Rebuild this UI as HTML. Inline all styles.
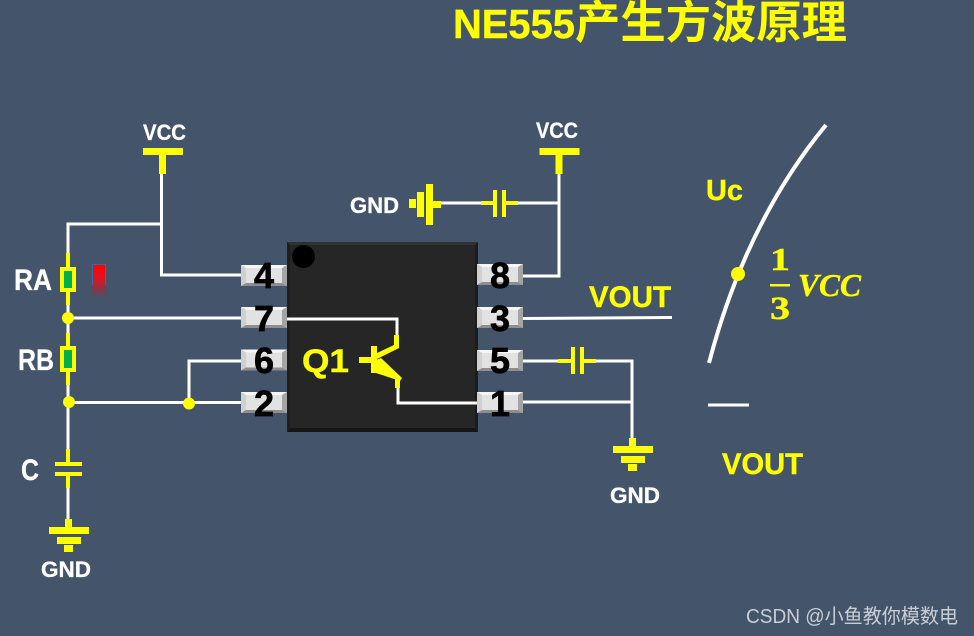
<!DOCTYPE html>
<html><head><meta charset="utf-8"><style>
html,body{margin:0;padding:0;background:#44546a}
svg{display:block}
text{font-family:"Liberation Sans","Noto Sans CJK SC",sans-serif;font-weight:bold}
.w{stroke:#fff;stroke-width:3;fill:none}
.y{fill:#ff0}
.n{font-size:36px;fill:#000;stroke:#000;stroke-width:.7;text-anchor:middle}
.l{fill:#fff;stroke:#fff;stroke-width:.3}
.s{stroke:#ff0;stroke-width:.4}
</style></head><body>
<svg width="974" height="636" viewBox="0 0 974 636" xmlns="http://www.w3.org/2000/svg">
<defs>
<linearGradient id="red" x1="0" y1="0" x2="0" y2="1"><stop offset="0" stop-color="#f00"/><stop offset=".35" stop-color="#e8101c"/><stop offset="1" stop-color="#f00" stop-opacity="0"/></linearGradient>
<g id="pin">
<rect width="46" height="21" fill="#e2e2e2"/>
<polygon points="0,0 46,0 41,3 5,3" fill="#f6f6f6"/>
<polygon points="0,0 5,3 5,18 0,21" fill="#d0d0d0"/>
<polygon points="46,0 41,3 41,18 46,21" fill="#a4a4a4"/>
<polygon points="0,21 5,18 41,18 46,21" fill="#8e8e8e"/>
</g>
<g id="gnd">
<rect x="-4" y="0" width="7" height="8"/>
<rect x="-20" y="8" width="40" height="7"/>
<rect x="-12" y="18" width="24" height="7"/>
<rect x="-5" y="26" width="9" height="7"/>
</g>
<g id="vcc">
<rect x="0" y="0" width="40" height="7"/>
<rect x="16" y="7" width="7" height="19"/>
</g>
</defs>
<rect width="974" height="636" fill="#44546a"/>

<!-- title -->
<text x="453" y="38" font-size="41" class="y s" textLength="122" lengthAdjust="spacingAndGlyphs">NE555</text>
<text x="575" y="38" font-size="45" class="y" textLength="272" lengthAdjust="spacingAndGlyphs">产生方波原理</text>

<!-- chip -->
<rect x="287" y="242" width="191" height="190" fill="#262626"/>
<polygon points="287,242 478,242 475,245 290,245" fill="#303030"/>
<polygon points="287,432 478,432 475,428 290,428" fill="#161616"/>
<polygon points="287,242 290,245 290,428 287,432" fill="#1e1e1e"/>
<polygon points="478,242 475,245 475,428 478,432" fill="#1c1c1c"/>
<circle cx="303.5" cy="256.5" r="11.5" fill="#000"/>

<!-- pins -->
<use href="#pin" x="241" y="265"/>
<use href="#pin" x="241" y="307"/>
<use href="#pin" x="241" y="349.500"/>
<use href="#pin" x="241" y="392"/>
<use href="#pin" x="477" y="264"/>
<use href="#pin" x="477" y="307"/>
<use href="#pin" x="477" y="350"/>
<use href="#pin" x="477" y="392"/>

<!-- wires -->
<path class="w" d="M161.500 172V275H241M68 254V224H161.500"/>
<path class="w" d="M68 300V450M68 488V520"/>
<path class="w" d="M68 318H241M68 402.500H241M189 403V361H241"/>
<path class="w" d="M287 319H397V336M398 386V403H477"/>
<path class="w" d="M559 172V276H523M440 203H481M518 203H559"/>
<path class="w" d="M523 318.500L672 317.500"/>
<path class="w" d="M523 361H558M596 361H632V440M523 402H632"/>
<path class="w" d="M708 405H749"/>
<path d="M709 363Q746 222 826 125" fill="none" stroke="#fff" stroke-width="4"/>

<!-- VCC/GND symbols -->
<use href="#vcc" x="143" y="148" class="y"/>
<use href="#vcc" x="539.500" y="148" class="y"/>
<g class="y">
<rect x="409" y="199" width="7" height="9"/>
<rect x="417" y="192" width="7" height="25"/>
<rect x="426" y="184" width="7" height="41"/>
<rect x="433" y="201" width="8" height="7"/>
<!-- top cap -->
<rect x="481" y="201" width="13" height="4"/>
<rect x="505" y="201" width="13" height="4"/>
<rect x="493" y="190" width="4" height="27"/>
<rect x="502" y="190" width="4" height="27"/>
<!-- right cap -->
<rect x="558" y="359" width="14" height="4"/>
<rect x="583" y="359" width="13" height="4"/>
<rect x="571" y="347" width="4" height="27"/>
<rect x="580" y="347" width="4" height="27"/>
<!-- RA -->
<rect x="66" y="253" width="4" height="52"/>
<rect x="60" y="267" width="16" height="25"/>
<!-- RB -->
<rect x="66" y="333" width="4" height="52"/>
<rect x="60" y="346" width="16" height="26"/>
<!-- C -->
<rect x="66" y="449" width="4" height="14"/>
<rect x="66" y="475" width="4" height="13"/>
<rect x="55" y="462" width="27" height="4"/>
<rect x="55" y="472" width="27" height="4"/>
</g>
<rect x="64" y="271" width="8" height="17" fill="#00b050"/>
<rect x="64" y="350" width="8" height="18" fill="#00b050"/>
<use href="#gnd" x="69" y="519" class="y"/>
<use href="#gnd" x="633" y="438" class="y"/>

<!-- nodes -->
<g class="y">
<circle cx="68" cy="318" r="6"/>
<circle cx="69" cy="402" r="6"/>
<circle cx="189" cy="403.500" r="6"/>
<circle cx="738" cy="274" r="7"/>
</g>

<!-- transistor -->
<g class="y">
<rect x="371" y="346" width="6" height="27"/>
<rect x="359" y="357" width="13" height="6"/>
<polygon points="394,335 399,335 399,348 377,359 375,354 394,345"/>
<polygon points="376,360 381,358 402,378 400,381 376,373"/>
<rect x="395" y="378" width="5" height="10"/>
</g>

<!-- red mark -->
<rect x="92.500" y="264.500" width="13" height="33" fill="url(#red)"/>
<path d="M92.500 285V264.500H105.500V285" fill="none" stroke="#3d6a9e" stroke-width="1"/>

<!-- pin numbers -->
<text class="n" x="264" y="288">4</text>
<text class="n" x="264" y="331">7</text>
<text class="n" x="264" y="373">6</text>
<text class="n" x="264" y="416">2</text>
<text class="n" x="500" y="288">8</text>
<text class="n" x="500" y="331">3</text>
<text class="n" x="500" y="373">5</text>
<text class="n" x="500" y="416">1</text>

<!-- labels -->
<text class="l" x="143" y="140" font-size="22" textLength="43" lengthAdjust="spacingAndGlyphs">VCC</text>
<text class="l" x="536" y="138" font-size="22" textLength="42" lengthAdjust="spacingAndGlyphs">VCC</text>
<text class="l" x="350" y="213" font-size="22" textLength="49" lengthAdjust="spacingAndGlyphs">GND</text>
<text class="l" x="41" y="577" font-size="22" textLength="50" lengthAdjust="spacingAndGlyphs">GND</text>
<text class="l" x="610" y="503" font-size="22" textLength="50" lengthAdjust="spacingAndGlyphs">GND</text>
<text class="l" x="14" y="290" font-size="30" textLength="38" lengthAdjust="spacingAndGlyphs">RA</text>
<text class="l" x="18" y="370" font-size="30" textLength="36" lengthAdjust="spacingAndGlyphs">RB</text>
<text class="l" x="21" y="480" font-size="30" textLength="18" lengthAdjust="spacingAndGlyphs">C</text>
<text class="y s" x="302" y="372" font-size="32" textLength="47" lengthAdjust="spacingAndGlyphs">Q1</text>
<text class="y s" x="589" y="307" font-size="30" textLength="82" lengthAdjust="spacingAndGlyphs">VOUT</text>
<text class="y s" x="722" y="474" font-size="30" textLength="81" lengthAdjust="spacingAndGlyphs">VOUT</text>
<text class="y s" x="706" y="200" font-size="29" textLength="37" lengthAdjust="spacingAndGlyphs">Uc</text>

<!-- formula -->
<text class="y s" x="770" y="270" font-size="32" style="font-family:'Liberation Serif',serif" textLength="20" lengthAdjust="spacingAndGlyphs">1</text>
<rect x="770" y="284" width="20" height="2.500" fill="#ff0"/>
<text class="y s" x="770" y="319" font-size="33" style="font-family:'Liberation Serif',serif" textLength="20" lengthAdjust="spacingAndGlyphs">3</text>
<text class="y s" x="798" y="296" font-size="32" font-style="italic" style="font-family:'Liberation Serif',serif" textLength="63" lengthAdjust="spacingAndGlyphs">VCC</text>

<!-- watermark -->
<text x="746" y="623" font-size="20" fill="#c9ced6" style="font-weight:normal" textLength="212" lengthAdjust="spacingAndGlyphs">CSDN @小鱼教你模数电</text>
</svg>
</body></html>
